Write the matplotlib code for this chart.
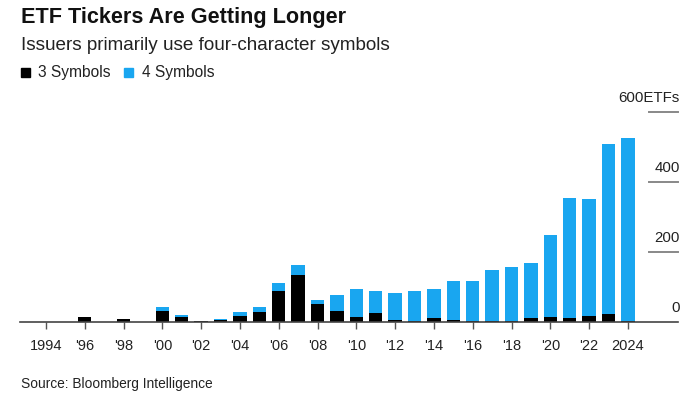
import matplotlib
matplotlib.use("Agg")
import matplotlib.pyplot as plt
from matplotlib.patches import Rectangle

plt.rcParams['font.family'] = ['Liberation Sans', 'DejaVu Sans']

years = list(range(1994, 2025))
three_symbols = [0, 0, 16, 0, 9, 0, 33, 16, 5, 7, 17, 30, 89, 134, 52, 32,
                 14, 27, 7, 4, 11, 7, 4, 4, 4, 13, 16, 13, 19, 23, 4]
totals = [0, 0, 16, 0, 9, 0, 44, 20, 5, 8, 29, 44, 113, 164, 65, 77,
          96, 89, 84, 88, 94, 118, 118, 149, 159, 170, 250, 356, 353, 510, 525]
four_symbols = [t - b for t, b in zip(totals, three_symbols)]

tick_years = list(range(1994, 2025, 2))
tick_labels = ['1994', "'96", "'98", "'00", "'02", "'04", "'06", "'08", "'10",
               "'12", "'14", "'16", "'18", "'20", "'22", '2024']
y_ticks = [0, 200, 400, 600]
y_labels = ['0', '200', '400', '600ETFs']

BLUE = '#19a6f0'
BLACK = '#000000'

fig = plt.figure(figsize=(7, 3.94), dpi=100)
ax = fig.add_axes([20/700, 1 - 322.3/394, 658/700, 210.3/394])

ax.bar(years, three_symbols, width=0.69, color=BLACK, zorder=2)
ax.bar(years, four_symbols, width=0.69, bottom=three_symbols, color=BLUE, zorder=2)

ax.set_xlim(1992.66, 2026.58)
ax.set_ylim(0, 600)

for s in ax.spines.values():
    s.set_visible(False)

ax.set_xticks(tick_years)
ax.set_xticklabels(tick_labels, fontsize=10.5, color='#222222')
ax.tick_params(axis='x', length=5, width=1, color='#555555', pad=7)
ax.set_yticks([])

# baseline
ax.axhline(0, color='#444444', lw=1.2, zorder=3, clip_on=False)
# short right-side gridlines with labels above
for v, lab in zip(y_ticks, y_labels):
    if v != 0:
        ax.axhline(v, xmin=0.956, xmax=1.0, color='#888888', lw=1.4, clip_on=False)
    ax.text(1.003, v + 14/210.3*600, lab, transform=ax.get_yaxis_transform(),
            ha='right', va='center', fontsize=10.8, color='#222222')

fig.text(21/700, 1 - 17.5/394, 'ETF Tickers Are Getting Longer', fontsize=15.6,
         fontweight='bold', color='#111111', va='center', ha='left')
fig.text(21/700, 1 - 46/394, 'Issuers primarily use four-character symbols',
         fontsize=13.6, color='#222222', va='center', ha='left')

# legend
fig.patches.append(Rectangle((21/700, 1 - 77/394), 9/700, 9/394,
                             transform=fig.transFigure, color=BLACK))
fig.text(37.5/700, 1 - 72.5/394, '3 Symbols', fontsize=11.2, color='#222222',
         va='center', ha='left')
fig.patches.append(Rectangle((124/700, 1 - 77/394), 9/700, 9/394,
                             transform=fig.transFigure, color=BLUE))
fig.text(141.5/700, 1 - 72.5/394, '4 Symbols', fontsize=11.2, color='#222222',
         va='center', ha='left')

fig.text(21/700, 1 - 384/394, 'Source: Bloomberg Intelligence', fontsize=9.9,
         color='#222222', va='center', ha='left')

fig.savefig('out.png', dpi=100)
